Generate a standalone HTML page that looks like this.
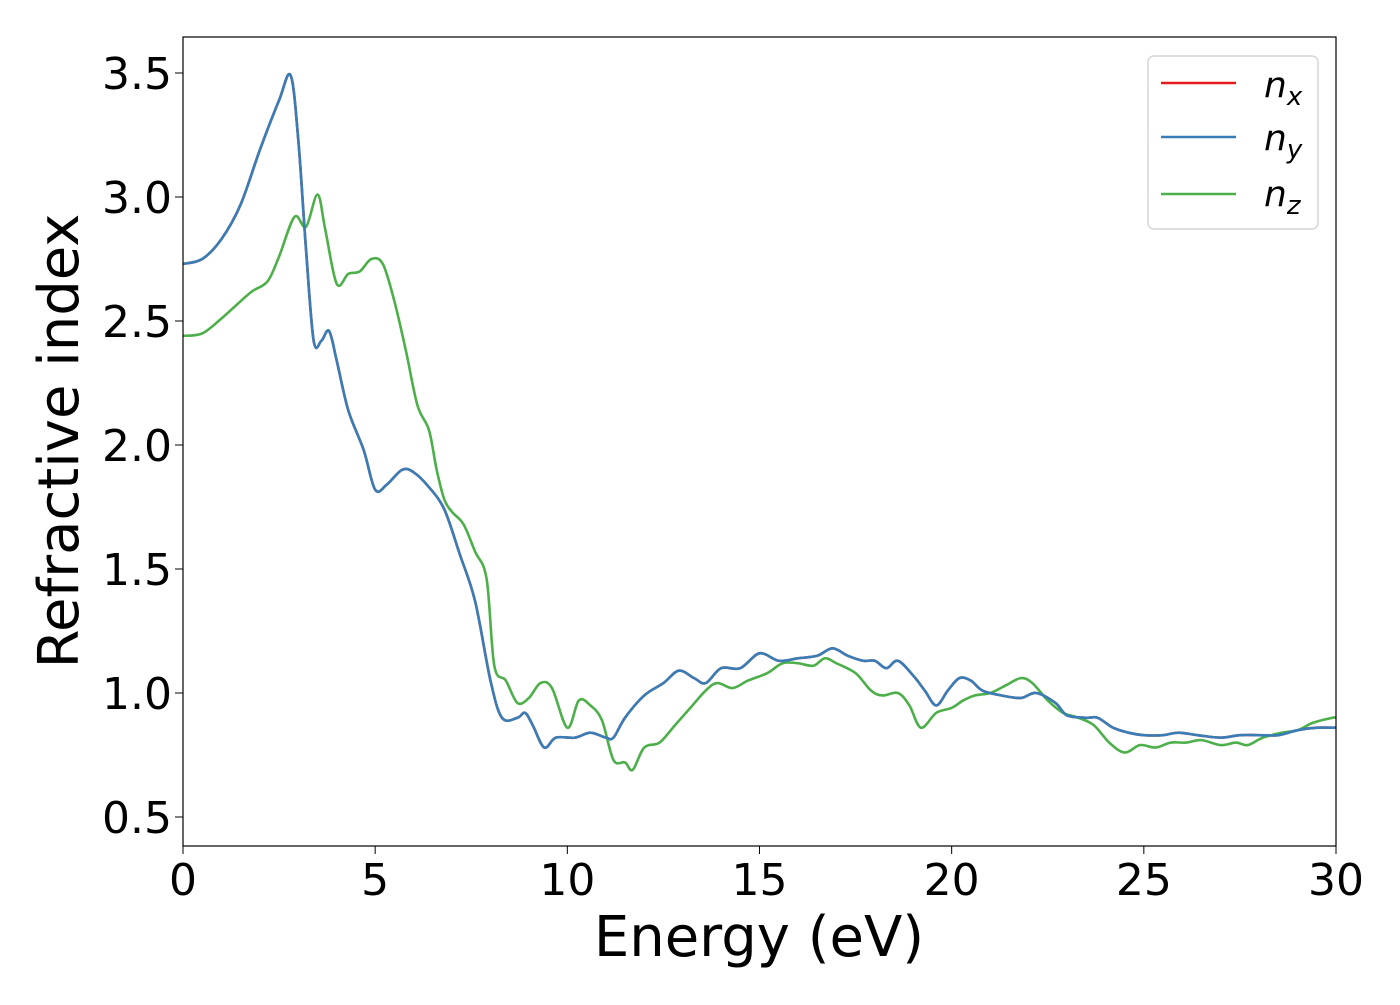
<!DOCTYPE html>
<html><head><meta charset="utf-8"><style>
body{margin:0;background:#fff;}
svg text{font-family:"DejaVu Sans","Liberation Sans",sans-serif;}
</style></head><body>
<svg id="chart" width="1400" height="1000" viewBox="0 0 1400 1000" xmlns="http://www.w3.org/2000/svg">
<rect width="1400" height="1000" fill="#fff"/>
<g id="series"></g>
<rect x="183" y="37" width="1153" height="809" fill="none" stroke="#000" stroke-width="1.2"/>
<g id="xticks"></g>
<g id="yticks"></g>
<text x="759" y="956" font-size="56" text-anchor="middle">Energy (eV)</text>
<text transform="translate(78,441) rotate(-90)" font-size="56" text-anchor="middle">Refractive index</text>
<g>
<rect x="1148" y="56" width="170" height="173" rx="6" fill="#fff" stroke="#ccc" stroke-width="1.2"/>
<line x1="1161" y1="83" x2="1236" y2="83" stroke="#e41a1c" stroke-width="2.6"/>
<text x="1264" y="97" font-size="36" font-style="italic">n<tspan font-size="26" dy="8">x</tspan></text>
<line x1="1161" y1="137" x2="1236" y2="137" stroke="#377eb8" stroke-width="2.6"/>
<text x="1264" y="150" font-size="36" font-style="italic">n<tspan font-size="26" dy="8">y</tspan></text>
<line x1="1161" y1="194" x2="1236" y2="194" stroke="#4daf4a" stroke-width="2.6"/>
<text x="1264" y="206" font-size="36" font-style="italic">n<tspan font-size="26" dy="8">z</tspan></text>
</g>
</svg>
<script>
const xTicks=[0,5,10,15,20,25,30];
const yTicks=[0.5,1.0,1.5,2.0,2.5,3.0,3.5];
const yTickLabels=["0.5","1.0","1.5","2.0","2.5","3.0","3.5"];
const energyXY=[0,0.5,1,1.5,2,2.5,2.8,3.0,3.2,3.4,3.6,3.8,4.0,4.3,4.7,5.0,5.3,5.7,6.0,6.4,6.8,7.2,7.6,8.0,8.3,8.7,8.9,9.1,9.4,9.7,10.2,10.6,11.0,11.2,11.5,12.0,12.5,12.9,13.3,13.6,14.0,14.5,15.0,15.5,16.0,16.5,16.9,17.3,17.7,18.0,18.3,18.6,19.0,19.3,19.6,19.9,20.2,20.5,20.8,21.3,21.8,22.2,22.7,23.0,23.5,23.8,24.2,24.6,25.0,25.5,25.9,26.4,27.0,27.5,28.0,28.5,29.0,29.5,30.0];
const nY=[2.73,2.75,2.83,2.97,3.19,3.39,3.49,3.23,2.79,2.42,2.42,2.46,2.34,2.14,1.98,1.82,1.84,1.90,1.89,1.83,1.74,1.56,1.37,1.05,0.90,0.90,0.92,0.87,0.78,0.82,0.82,0.84,0.82,0.82,0.90,0.99,1.04,1.09,1.06,1.04,1.10,1.10,1.16,1.13,1.14,1.15,1.18,1.15,1.13,1.13,1.10,1.13,1.07,1.01,0.95,1.01,1.06,1.05,1.01,0.99,0.98,1.00,0.96,0.91,0.90,0.90,0.86,0.84,0.83,0.83,0.84,0.83,0.82,0.83,0.83,0.83,0.85,0.86,0.86];
const nX=nY.slice();
const energyZ=[0,0.5,1.0,1.5,1.8,2.2,2.5,2.9,3.2,3.5,3.7,4.0,4.3,4.6,4.9,5.2,5.5,5.8,6.1,6.4,6.6,6.8,7.0,7.3,7.6,7.9,8.1,8.4,8.7,9.0,9.3,9.6,10.0,10.3,10.6,10.9,11.2,11.5,11.7,12.0,12.4,12.8,13.2,13.6,13.9,14.3,14.7,15.2,15.6,16.0,16.4,16.7,17.0,17.5,17.9,18.2,18.6,18.9,19.2,19.6,20.0,20.3,20.6,21.0,21.4,21.8,22.1,22.5,22.9,23.3,23.7,24.1,24.5,24.9,25.3,25.7,26.1,26.5,27.0,27.4,27.7,28.1,28.6,29.0,29.4,29.9,30.0];
const nZ=[2.44,2.45,2.51,2.58,2.62,2.66,2.76,2.92,2.88,3.01,2.87,2.65,2.69,2.70,2.75,2.73,2.58,2.38,2.16,2.06,1.90,1.78,1.73,1.68,1.57,1.46,1.11,1.05,0.96,0.98,1.04,1.02,0.86,0.97,0.95,0.89,0.73,0.72,0.69,0.78,0.80,0.87,0.94,1.01,1.04,1.02,1.05,1.08,1.12,1.12,1.11,1.14,1.12,1.08,1.01,0.99,1.00,0.95,0.86,0.92,0.94,0.97,0.99,1.00,1.03,1.06,1.04,0.97,0.92,0.90,0.87,0.80,0.76,0.79,0.78,0.80,0.80,0.81,0.79,0.80,0.79,0.82,0.84,0.85,0.88,0.90,0.90];

const NS="http://www.w3.org/2000/svg";
const X0=183,X1=1336,Y0=37,Y1=846;
function xs(v){return X0+(v-0)/(30-0)*(X1-X0);}
function ys(v){return 693-(v-1.0)*248;}
function pathFor(xa,ya){
  const p=xa.map((x,i)=>[xs(x),ys(ya[i])]);
  let d="M"+p[0][0].toFixed(2)+","+p[0][1].toFixed(2);
  for(let i=0;i<p.length-1;i++){
    const a=p[Math.max(0,i-1)],b=p[i],c=p[i+1],e=p[Math.min(p.length-1,i+2)];
    const c1x=b[0]+(c[0]-a[0])/6,c1y=b[1]+(c[1]-a[1])/6;
    const c2x=c[0]-(e[0]-b[0])/6,c2y=c[1]-(e[1]-b[1])/6;
    d+=" C"+c1x.toFixed(2)+","+c1y.toFixed(2)+" "+c2x.toFixed(2)+","+c2y.toFixed(2)+" "+c[0].toFixed(2)+","+c[1].toFixed(2);
  }
  return d;
}
const g=document.getElementById("series");
const clip=document.createElementNS(NS,"clipPath");clip.setAttribute("id","pc");
const cr=document.createElementNS(NS,"rect");cr.setAttribute("x",X0);cr.setAttribute("y",Y0);cr.setAttribute("width",X1-X0);cr.setAttribute("height",Y1-Y0);
clip.appendChild(cr);document.getElementById("chart").appendChild(clip);
g.setAttribute("clip-path","url(#pc)");
[[energyXY,nX,"#e41a1c","series-nx"],[energyZ,nZ,"#4daf4a","series-nz"],[energyXY,nY,"#377eb8","series-ny"]].forEach(s=>{
  const el=document.createElementNS(NS,"path");
  el.setAttribute("d",pathFor(s[0],s[1]));
  el.setAttribute("fill","none");el.setAttribute("stroke",s[2]);el.setAttribute("stroke-width","2.6");
  
  
  g.appendChild(el);
});
const gx=document.getElementById("xticks");
xTicks.forEach(v=>{
  const l=document.createElementNS(NS,"line");
  l.setAttribute("x1",xs(v));l.setAttribute("x2",xs(v));l.setAttribute("y1",Y1);l.setAttribute("y2",Y1+8);l.setAttribute("stroke","#000");
  
  
  gx.appendChild(l);
  const t=document.createElementNS(NS,"text");
  t.setAttribute("x",xs(v));t.setAttribute("y",895);t.setAttribute("font-size","44");t.setAttribute("text-anchor","middle");
  t.textContent=String(v);
  
  
  gx.appendChild(t);
});
const gy=document.getElementById("yticks");
yTicks.forEach((v,i)=>{
  const l=document.createElementNS(NS,"line");
  l.setAttribute("x1",X0-8);l.setAttribute("x2",X0);l.setAttribute("y1",ys(v));l.setAttribute("y2",ys(v));l.setAttribute("stroke","#000");
  
  
  gy.appendChild(l);
  const t=document.createElementNS(NS,"text");
  t.setAttribute("x",172);t.setAttribute("y",ys(v)+16);t.setAttribute("font-size","44");t.setAttribute("text-anchor","end");
  t.textContent=yTickLabels[i];
  
  
  gy.appendChild(t);
});
</script>
</body></html>
